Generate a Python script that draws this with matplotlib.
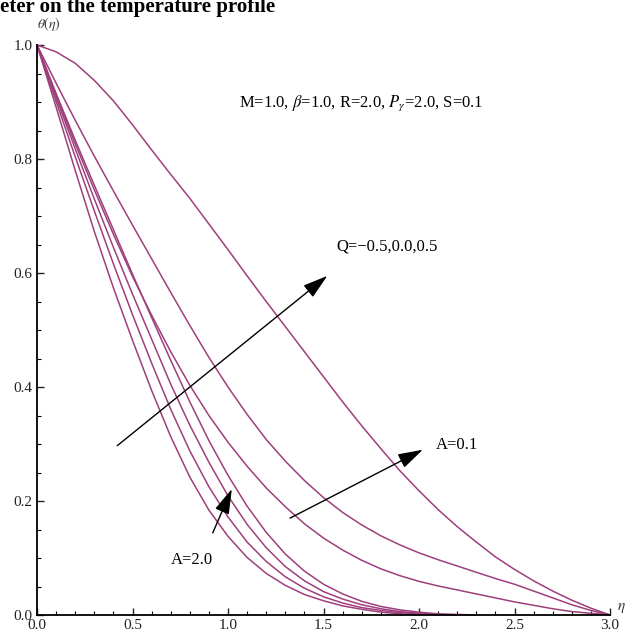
import numpy as np
import matplotlib.pyplot as plt
from matplotlib.ticker import MultipleLocator

plt.rcParams['font.family'] = ['Liberation Serif', 'DejaVu Serif']
plt.rcParams['mathtext.fontset'] = 'stix'

# eta positions the curves were read at
eta_full = [0.0, 0.1, 0.2, 0.3, 0.4, 0.5, 0.6, 0.7, 0.8, 0.9, 1.0,
            1.1, 1.2, 1.3, 1.4, 1.5, 1.6, 1.7, 1.8, 1.9, 2.0,
            2.1, 2.2, 2.3, 2.4, 2.5, 2.6, 2.7, 2.8, 2.9, 3.0]

# A=0.1 family (reach zero at eta=3)
theta_1 = [1.000, 0.988, 0.968, 0.938, 0.902, 0.860, 0.816, 0.773, 0.731, 0.686, 0.641,
           0.595, 0.550, 0.506, 0.462, 0.418, 0.374, 0.332, 0.292, 0.253, 0.218,
           0.185, 0.155, 0.128, 0.102, 0.080, 0.060, 0.042, 0.026, 0.012, 0.000]
theta_2 = [1.000, 0.933, 0.868, 0.805, 0.744, 0.684, 0.625, 0.566, 0.508, 0.452, 0.400,
           0.352, 0.308, 0.270, 0.236, 0.206, 0.180, 0.158, 0.139, 0.123, 0.109,
           0.097, 0.086, 0.075, 0.064, 0.054, 0.042, 0.030, 0.018, 0.008, 0.000]
theta_3 = [1.000, 0.912, 0.827, 0.746, 0.668, 0.594, 0.526, 0.462, 0.403, 0.350, 0.303,
           0.261, 0.223, 0.190, 0.160, 0.135, 0.114, 0.096, 0.081, 0.069, 0.059,
           0.051, 0.044, 0.037, 0.030, 0.023, 0.017, 0.011, 0.006, 0.003, 0.000]

# A=2.0 family (steep, die out near eta=2)
eta_4 = eta_full[:24]
theta_4 = [1.000, 0.915, 0.833, 0.754, 0.676, 0.598, 0.522, 0.447, 0.374, 0.306, 0.245,
           0.191, 0.145, 0.107, 0.077, 0.054, 0.037, 0.024, 0.015, 0.009, 0.005,
           0.002, 0.001, 0.000]
eta_5 = eta_full[:23]
theta_5 = [1.000, 0.908, 0.818, 0.730, 0.645, 0.563, 0.484, 0.405, 0.333, 0.268, 0.209,
           0.159, 0.118, 0.085, 0.060, 0.041, 0.028, 0.018, 0.011, 0.006, 0.003,
           0.001, 0.000]
eta_6 = eta_full[:22]
theta_6 = [1.000, 0.901, 0.804, 0.709, 0.616, 0.527, 0.442, 0.361, 0.288, 0.225, 0.172,
           0.128, 0.094, 0.067, 0.047, 0.032, 0.021, 0.013, 0.008, 0.004, 0.002,
           0.000]
eta_7 = eta_full[:21]
theta_7 = [1.000, 0.891, 0.780, 0.673, 0.574, 0.482, 0.394, 0.313, 0.242, 0.184, 0.138,
           0.101, 0.073, 0.052, 0.036, 0.025, 0.016, 0.010, 0.005, 0.002, 0.000]

curves = [(eta_full, theta_1), (eta_full, theta_2), (eta_full, theta_3),
          (eta_4, theta_4), (eta_5, theta_5), (eta_6, theta_6), (eta_7, theta_7)]

line_col = '#9e3f7c'

fig = plt.figure(figsize=(6.32, 6.37), dpi=100)
ax = fig.add_axes([37/632, 1 - 615/637, 573/632, 570/637])

for e, t in curves:
    ax.plot(e, t, color=line_col, lw=1.1, clip_on=False)

ax.set_xlim(0, 3.0)
ax.set_ylim(0, 1.0)
ax.spines['top'].set_visible(False)
ax.spines['right'].set_visible(False)
ax.spines['left'].set_linewidth(1.3)
ax.spines['bottom'].set_linewidth(1.3)
ax.xaxis.set_major_locator(MultipleLocator(0.5))
ax.xaxis.set_minor_locator(MultipleLocator(0.1))
ax.yaxis.set_major_locator(MultipleLocator(0.2))
ax.yaxis.set_minor_locator(MultipleLocator(0.05))
ax.tick_params(which='major', direction='in', length=5, width=1, labelsize=11, pad=3, colors='#222222')
ax.tick_params(which='minor', direction='in', length=3, width=0.8)
ax.set_xticklabels(['%.1f' % v for v in ax.get_xticks()])
ax.set_yticklabels(['%.1f' % v for v in ax.get_yticks()])

ax.text(0.06, 1.036, r'$\theta(\eta)$', fontsize=10, ha='center', va='center', color='#333333')
ax.text(3.035, 0.012, r'$\eta$', fontsize=11, ha='left', va='center', color='#333333')

ax.text(1.06, 0.898, r'M=1.0, $\beta$=1.0, R=2.0, $P_\gamma$=2.0, S=0.1', fontsize=12, ha='left', va='center')
ax.text(1.57, 0.646, 'Q=\u22120.5,0.0,0.5', fontsize=12, ha='left', va='center')
ax.text(2.09, 0.298, 'A=0.1', fontsize=12, ha='left', va='center')
ax.text(0.70, 0.096, 'A=2.0', fontsize=12, ha='left', va='center')

arrow_kw = dict(arrowstyle='-|>,head_length=1.1,head_width=0.33', color='black', lw=1.0,
                mutation_scale=14, shrinkA=0, shrinkB=0)
ax.annotate('', xy=(1.52, 0.595), xytext=(0.42, 0.297), arrowprops=arrow_kw)
ax.annotate('', xy=(2.02, 0.29), xytext=(1.325, 0.17), arrowprops=arrow_kw)
ax.annotate('', xy=(1.02, 0.221), xytext=(0.92, 0.144), arrowprops=arrow_kw)

fig.text(0.0, 1 - 12/637, 'eter on the temperature profile', fontsize=15, fontweight='bold',
         ha='left', va='baseline')

fig.savefig('out.png', dpi=100)
